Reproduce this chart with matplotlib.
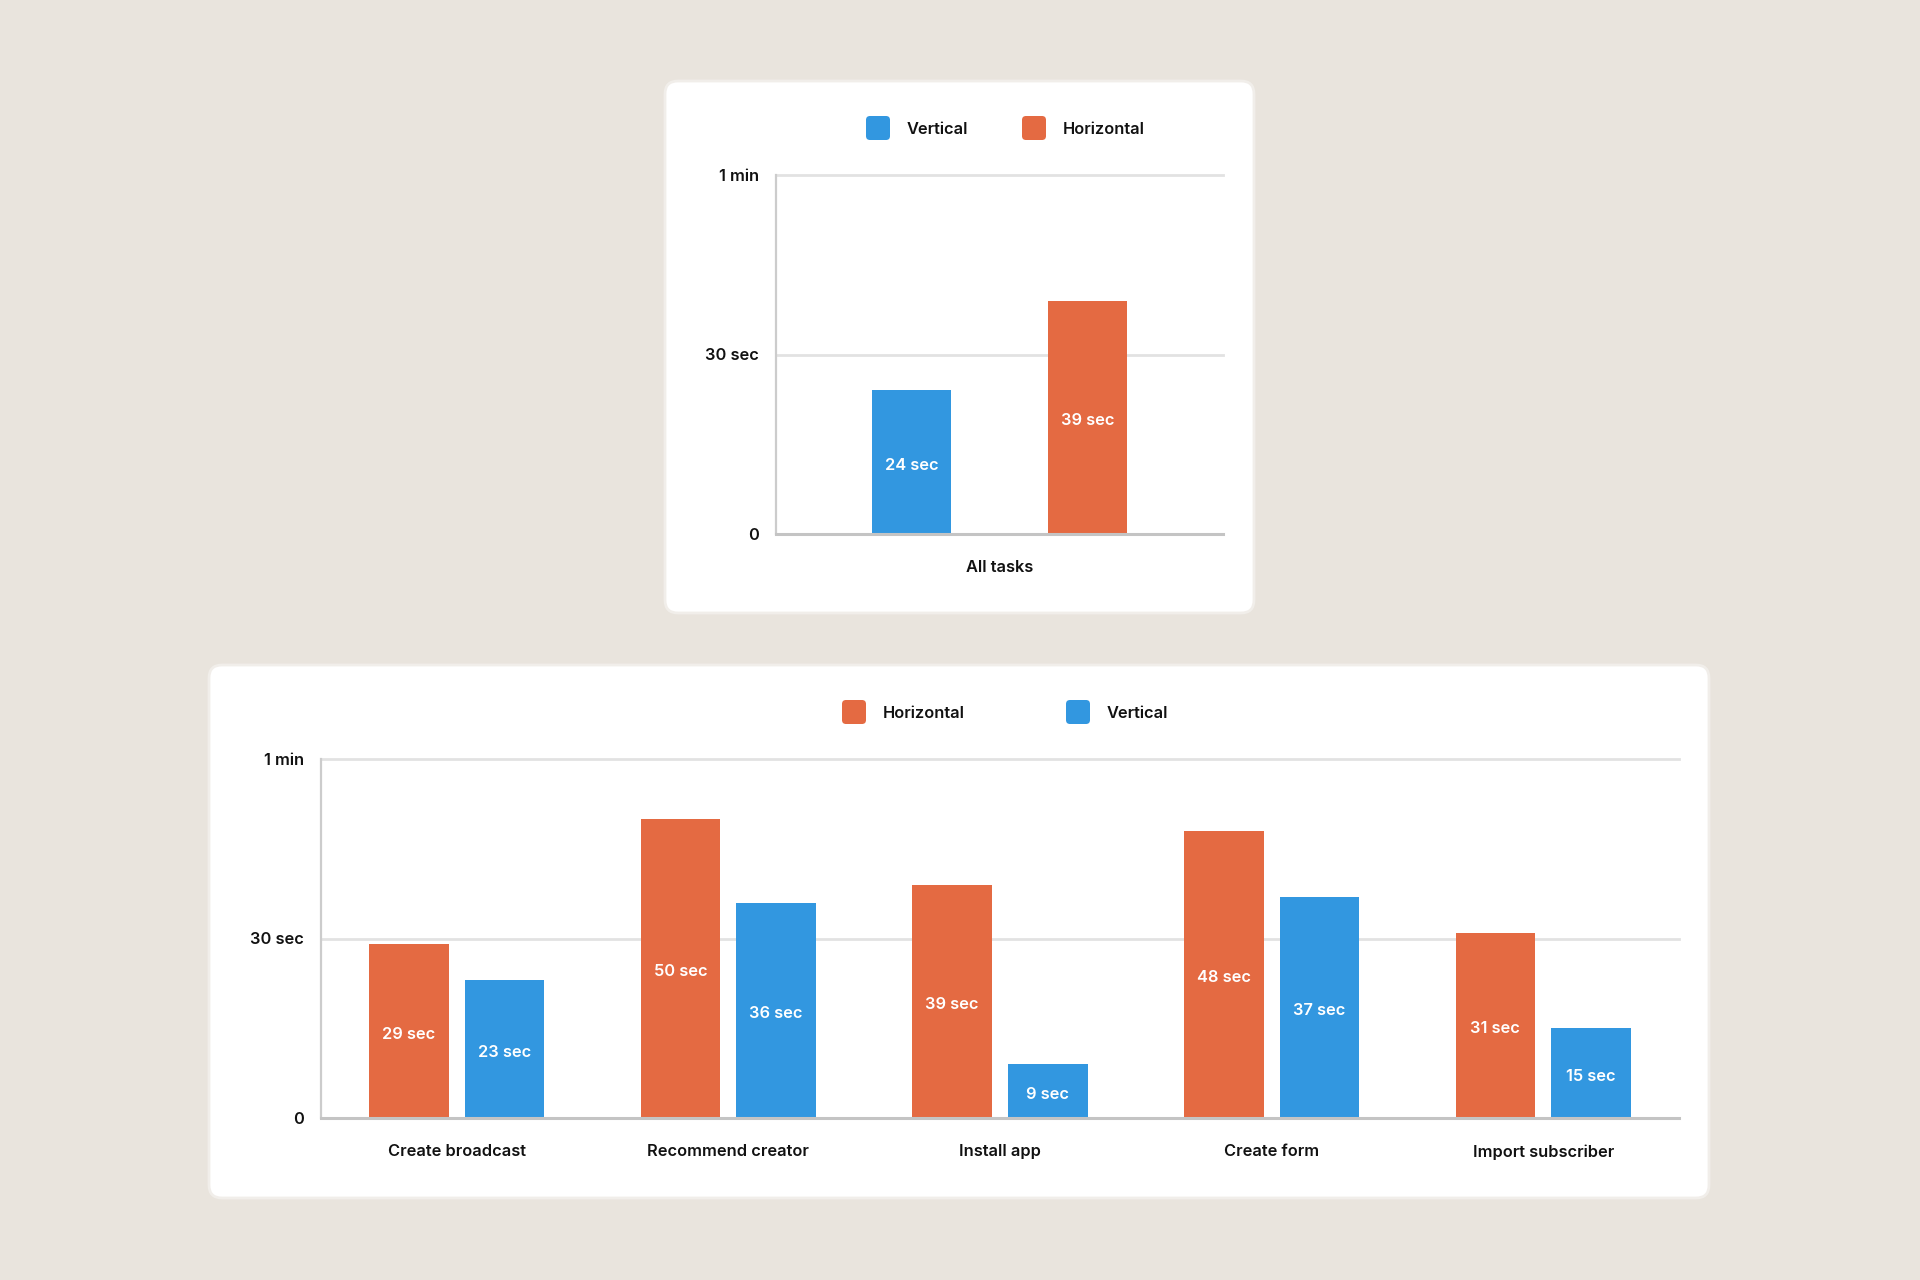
import matplotlib.pyplot as plt
from matplotlib.patches import FancyBboxPatch
from matplotlib.transforms import offset_copy
import numpy as np

plt.rcParams['font.family'] = ['Inter', 'DejaVu Sans']

# data
overall_labels = ['All tasks']
overall_vertical = [24]
overall_horizontal = [39]

tasks = ['Create broadcast', 'Recommend creator', 'Install app', 'Create form', 'Import subscriber']
task_horizontal = [29, 50, 39, 48, 31]
task_vertical = [23, 36, 9, 37, 15]

y_ticks = [0, 30, 60]
y_tick_labels = ['0', '30 sec', '1 min']

BLUE = '#3297E0'
ORANGE = '#E46A42'
BG = '#E9E4DD'
W, H = 1920, 1280
WEIGHT = 'semibold'
FS = 11.8

fig = plt.figure(figsize=(W / 100, H / 100), dpi=100, facecolor=BG)

# background layer in pixel units for the cards and legends
bg = fig.add_axes([0, 0, 1, 1], zorder=0)
bg.set_xlim(0, W)
bg.set_ylim(H, 0)
bg.axis('off')


def card(x0, y0, x1, y1):
    bg.add_patch(FancyBboxPatch((x0, y0), x1 - x0, y1 - y0,
                                boxstyle='round,pad=0,rounding_size=13',
                                fc='white', ec='#F1EEEA', lw=2))


def legend(items, y):
    for x, color, label in items:
        bg.add_patch(FancyBboxPatch((x, y - 12), 24, 24,
                                    boxstyle='round,pad=0,rounding_size=4',
                                    fc=color, ec='none'))
        bg.text(x + 41, y + 1, label, fontsize=FS, fontweight=WEIGHT,
                color='#111111', va='center', ha='left')


def style_axes(ax):
    ax.set_ylim(0, 60)
    ax.set_yticks(y_ticks)
    ax.set_yticklabels(y_tick_labels)
    ax.tick_params(axis='y', length=0, pad=12, labelsize=FS, labelcolor='#111111')
    ax.tick_params(axis='x', length=0, pad=19, labelsize=FS, labelcolor='#111111')
    for lab in ax.get_xticklabels() + ax.get_yticklabels():
        lab.set_fontweight(WEIGHT)
    ax.grid(axis='y', color='#E2E2E2', lw=2)
    ax.set_axisbelow(True)
    for ln in ax.get_ygridlines():
        ln.set_clip_on(False)
    for s in ['top', 'right']:
        ax.spines[s].set_visible(False)
    ax.spines['left'].set_color('#CCCCCC')
    ax.spines['left'].set_linewidth(1.6)
    ax.spines['bottom'].set_color('#C4C4C4')
    ax.spines['bottom'].set_linewidth(2.2)
    ax.set_facecolor('none')


def bar_labels(ax, bars, vals):
    tr = offset_copy(ax.transData, fig=fig, x=0, y=-3, units='dots')
    for b, v in zip(bars, vals):
        ax.text(b.get_x() + b.get_width() / 2, v / 2, f'{v} sec',
                ha='center', va='center', color='white',
                fontsize=FS, fontweight=WEIGHT, transform=tr)


def px_axes(left, top, right, bottom):
    return fig.add_axes([left / W, 1 - bottom / H, (right - left) / W, (bottom - top) / H], zorder=1)


# top card: all tasks
card(665, 81, 1254, 613)
legend([(866, BLUE, 'Vertical'), (1022, ORANGE, 'Horizontal')], 128)
ax1 = px_axes(776, 175, 1223, 534)
x1 = np.arange(len(overall_labels))
b1 = ax1.bar(x1 - 0.197, overall_vertical, 0.178, color=BLUE)
b2 = ax1.bar(x1 + 0.197, overall_horizontal, 0.178, color=ORANGE)
ax1.set_xlim(-0.5, 0.5)
ax1.set_xticks(x1)
ax1.set_xticklabels(overall_labels)
style_axes(ax1)
bar_labels(ax1, b1, overall_vertical)
bar_labels(ax1, b2, overall_horizontal)

# bottom card: per task
card(209, 665, 1709, 1198)
legend([(842, ORANGE, 'Horizontal'), (1066, BLUE, 'Vertical')], 712)
ax2 = px_axes(321, 759, 1679, 1118)
x2 = np.arange(len(tasks))
b3 = ax2.bar(x2 - 0.176, task_horizontal, 0.293, color=ORANGE)
b4 = ax2.bar(x2 + 0.176, task_vertical, 0.293, color=BLUE)
ax2.set_xlim(-0.5, len(tasks) - 0.5)
ax2.set_xticks(x2)
ax2.set_xticklabels(tasks)
style_axes(ax2)
bar_labels(ax2, b3, task_horizontal)
bar_labels(ax2, b4, task_vertical)

fig.savefig('out.png', dpi=100, facecolor=BG)
